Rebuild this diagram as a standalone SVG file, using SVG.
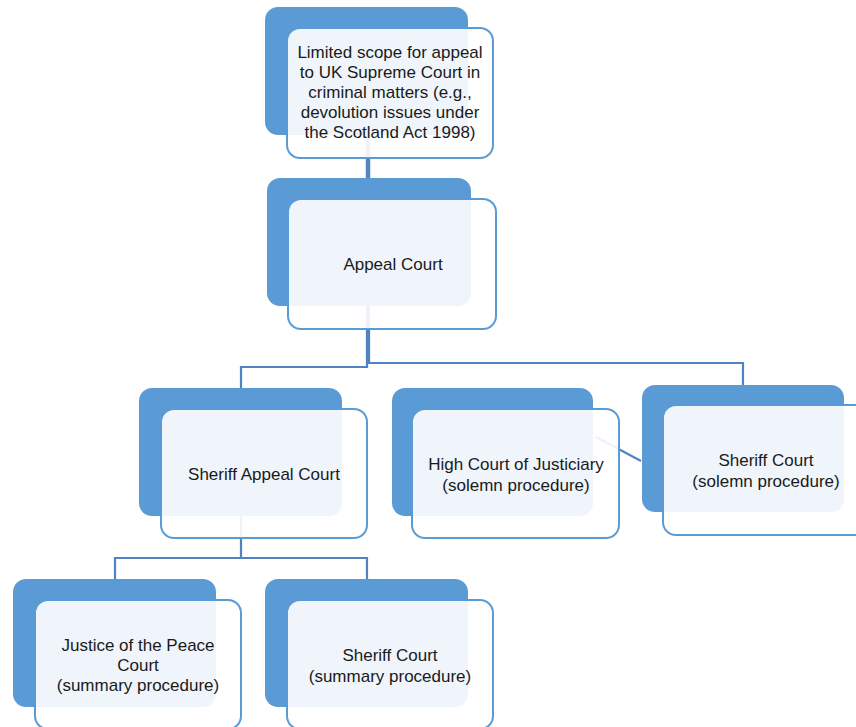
<svg xmlns="http://www.w3.org/2000/svg" width="856" height="727" viewBox="0 0 856 727">
<style>
.back{fill:#5B9BD5;}
.front{fill:#FFFFFF;fill-opacity:0.9;stroke:#5B9BD5;stroke-width:2;}
.conn{fill:none;stroke:#4E84C4;stroke-width:2.2;}
text{font-family:"Liberation Sans",Arial,sans-serif;font-size:17px;fill:#1a1a1a;text-anchor:middle;}
</style>
<rect width="856" height="727" fill="#FFFFFF"/>
<g id="connectors">
<line class="conn" x1="368" y1="134" x2="368" y2="178" style="stroke-width:4.5"/>
<polyline class="conn" points="367,306 367,367 241,367 241,388"/>
<polyline class="conn" points="369,306 369,363 743,363 743,385"/>
<line class="conn" x1="596" y1="437" x2="641" y2="461"/>
<polyline class="conn" points="241,516 241,558 115,558 115,579"/>
<polyline class="conn" points="241,558 367,558 367,579"/>
</g>
<g id="node-supreme">
<rect class="back" x="265" y="7" width="203" height="128" rx="13"/>
<rect class="front" x="287" y="28" width="206" height="130" rx="13"/>
<text x="390" y="58">Limited scope for appeal</text>
<text x="390" y="78">to UK Supreme Court in</text>
<text x="390" y="98">criminal matters (e.g.,</text>
<text x="390" y="118">devolution issues under</text>
<text x="390" y="138">the Scotland Act 1998)</text>
</g>
<g id="node-appeal">
<rect class="back" x="267" y="178" width="204" height="128" rx="13"/>
<rect class="front" x="288" y="199" width="208" height="130" rx="13"/>
<text x="393" y="270">Appeal Court</text>
</g>
<g id="node-sheriff-appeal">
<rect class="back" x="139" y="388" width="203" height="128" rx="13"/>
<rect class="front" x="161" y="409" width="206" height="129" rx="13"/>
<text x="264" y="480">Sheriff Appeal Court</text>
</g>
<g id="node-high-court">
<rect class="back" x="392" y="388" width="201" height="128" rx="13"/>
<rect class="front" x="412" y="409" width="207" height="129" rx="13"/>
<text x="516" y="470">High Court of Justiciary</text>
<text x="516" y="491">(solemn procedure)</text>
</g>
<g id="node-sheriff-solemn">
<rect class="back" x="642" y="385" width="202" height="127" rx="13"/>
<rect class="front" x="663" y="405" width="206" height="130" rx="13"/>
<text x="766" y="466">Sheriff Court</text>
<text x="766" y="487">(solemn procedure)</text>
</g>
<g id="node-jp">
<rect class="back" x="13" y="579" width="203" height="128" rx="13"/>
<rect class="front" x="35" y="600" width="206" height="129" rx="13"/>
<text x="138" y="651">Justice of the Peace</text>
<text x="138" y="671">Court</text>
<text x="138" y="691">(summary procedure)</text>
</g>
<g id="node-sheriff-summary">
<rect class="back" x="265" y="579" width="203" height="128" rx="13"/>
<rect class="front" x="287" y="600" width="206" height="129" rx="13"/>
<text x="390" y="661">Sheriff Court</text>
<text x="390" y="682">(summary procedure)</text>
</g>
</svg>
